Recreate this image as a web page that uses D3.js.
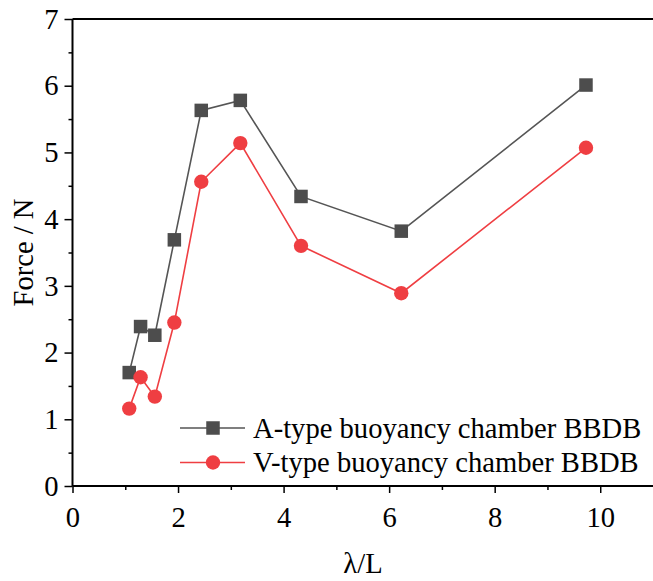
<!DOCTYPE html>
<html>
<head>
<meta charset="utf-8">
<script src="https://cdn.jsdelivr.net/npm/d3@7"></script>
<style>
  html, body { margin: 0; padding: 0; background: #fff; }
  svg { display: block; font-family: "Liberation Serif", "Times New Roman", serif; }
</style>
</head>
<body>
<svg id="chart" width="653" height="581"></svg>
<script>
// Wavelength ratio λ/L for each test case
const ratios = [1.075, 1.29, 1.56, 1.93, 2.44, 3.18, 4.33, 6.23, 9.73];
// Measured force (N)
const forceA = [1.70, 2.39, 2.26, 3.69, 5.63, 5.78, 4.34, 3.82, 6.01];
const forceV = [1.16, 1.63, 1.34, 2.45, 4.56, 5.14, 3.60, 2.89, 5.07];
const seriesNames = ["A-type buoyancy chamber BBDB", "V-type buoyancy chamber BBDB"];
const xTicks = [0, 2, 4, 6, 8, 10];
const yTicks = [0, 1, 2, 3, 4, 5, 6, 7];

const serif = '"Liberation Serif", "Times New Roman", serif';
const fontSize = "28.6px";

const svg = d3.select("#chart");
const plotLeft = 72.5, plotRight = 653, plotTop = 19, plotBottom = 486;

const x = d3.scaleLinear().domain([0, 11]).range([plotLeft, plotRight]);
const y = d3.scaleLinear().domain([0, 7]).range([plotBottom, plotTop]);

// Minor tick marks at odd / half values
const xMinor = d3.range(1, 11, 2);
const yMinor = d3.range(0.5, 7, 1);

const axisColor = "#000";

// Top frame line
svg.append("line")
  .attr("x1", plotLeft).attr("x2", plotRight)
  .attr("y1", y(7)).attr("y2", y(7))
  .attr("stroke", axisColor).attr("stroke-width", 2);

// X axis
const gx = svg.append("g").attr("transform", `translate(0,${plotBottom})`);
gx.call(d3.axisBottom(x).tickValues(xTicks).tickSize(7).tickPadding(14).tickFormat(d3.format("d")));
gx.append("g").call(d3.axisBottom(x).tickValues(xMinor).tickSize(4).tickFormat(""))
  .select(".domain").remove();

// Y axis
const gy = svg.append("g").attr("transform", `translate(${plotLeft},0)`);
gy.call(d3.axisLeft(y).tickValues(yTicks).tickSize(8).tickPadding(6).tickFormat(d3.format("d")));
gy.append("g").call(d3.axisLeft(y).tickValues(yMinor).tickSize(4).tickFormat(""))
  .select(".domain").remove();

[gx, gy].forEach(g => {
  g.attr("font-family", serif).attr("font-size", fontSize);
  g.selectAll(".domain").attr("stroke", axisColor).attr("stroke-width", 2);
  g.selectAll(".tick line").attr("stroke", axisColor).attr("stroke-width", 1.5);
  g.selectAll("text")
    .attr("fill", "#000")
    .style("font-family", serif)
    .style("font-size", fontSize);
});
gx.selectAll(".domain").attr("d", `M${plotLeft},0H${plotRight}`);
gy.selectAll(".domain").attr("d", `M0,${plotBottom}V${plotTop}`);

// Axis titles
svg.append("text")
  .attr("x", 363).attr("y", 573)
  .attr("text-anchor", "middle")
  .style("font-size", fontSize)
  .text("λ/L");
svg.append("text")
  .attr("transform", `translate(33,${(plotTop + plotBottom) / 2}) rotate(-90)`)
  .attr("text-anchor", "middle")
  .style("font-size", fontSize)
  .text("Force / N");

const colA = "#4d4d4d", lineA = "#555555";
const colV = "#ef3e42", lineV = "#ef3e42";

const line = d3.line().x(d => x(d[0])).y(d => y(d[1]));
const dataA = ratios.map((r, i) => [r, forceA[i]]);
const dataV = ratios.map((r, i) => [r, forceV[i]]);

svg.append("path").datum(dataA).attr("d", line)
  .attr("fill", "none").attr("stroke", lineA).attr("stroke-width", 1.6);
svg.append("path").datum(dataV).attr("d", line)
  .attr("fill", "none").attr("stroke", lineV).attr("stroke-width", 1.6);

const sq = 13.5;
svg.append("g").selectAll("rect").data(dataA).join("rect")
  .attr("x", d => x(d[0]) - sq / 2).attr("y", d => y(d[1]) - sq / 2)
  .attr("width", sq).attr("height", sq)
  .attr("fill", colA);

svg.append("g").selectAll("circle").data(dataV).join("circle")
  .attr("cx", d => x(d[0])).attr("cy", d => y(d[1])).attr("r", 7.2)
  .attr("fill", colV);

// Legend
const legend = svg.append("g");
const legendRows = [
  { name: seriesNames[0], color: colA, stroke: lineA, shape: "square", yy: 428 },
  { name: seriesNames[1], color: colV, stroke: lineV, shape: "circle", yy: 462.5 }
];
legendRows.forEach(r => {
  legend.append("line")
    .attr("x1", 180).attr("x2", 245).attr("y1", r.yy).attr("y2", r.yy)
    .attr("stroke", r.stroke).attr("stroke-width", 1.6);
  if (r.shape === "square") {
    legend.append("rect")
      .attr("x", 213 - sq / 2).attr("y", r.yy - sq / 2)
      .attr("width", sq).attr("height", sq).attr("fill", r.color);
  } else {
    legend.append("circle").attr("cx", 213).attr("cy", r.yy).attr("r", 7.2).attr("fill", r.color);
  }
  legend.append("text")
    .attr("x", 253).attr("y", r.yy + 9.5)
    .style("font-size", fontSize)
    .text(r.name);
});
</script>
</body>
</html>
